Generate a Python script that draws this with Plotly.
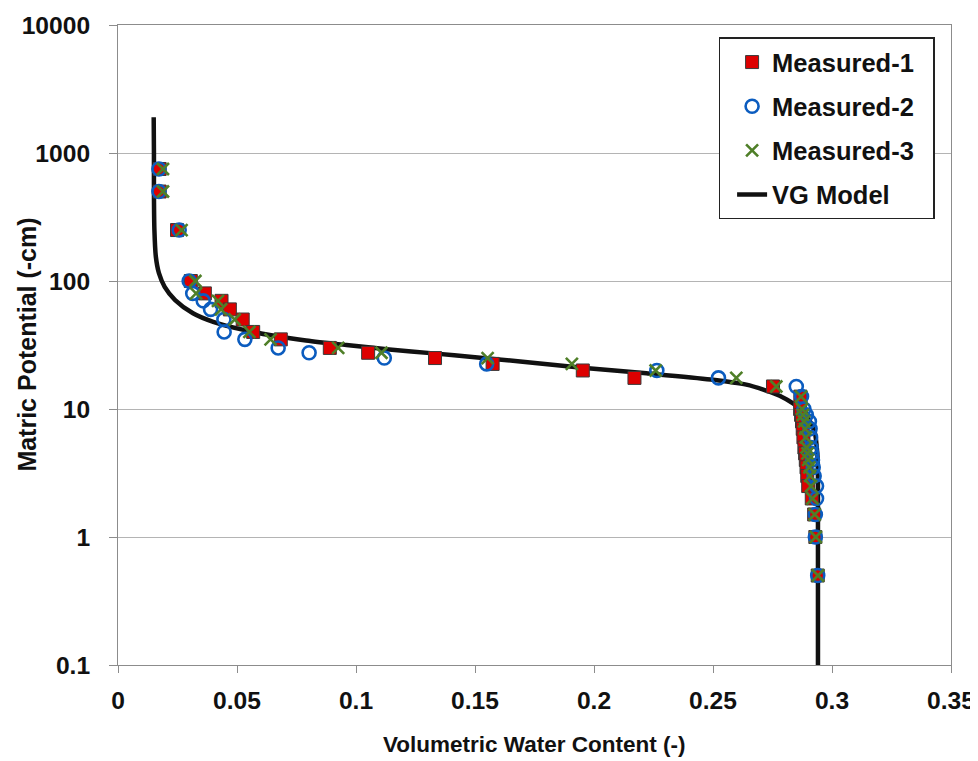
import plotly.graph_objects as go

# ---------------- data ----------------
suction_levels = [750, 500, 250, 100, 80, 70, 60, 50, 40, 35, 30, 27.5, 25, 22.5, 20,
                  17.5, 15, 12.5, 10, 9, 8, 7, 6, 5, 4.5, 4, 3.5, 3, 2.5, 2, 1.5, 1, 0.5]

measured1_theta = [0.0175, 0.0175, 0.0248, 0.0306, 0.0365, 0.0435, 0.0470, 0.0524, 0.0568,
                   0.0684, 0.0890, 0.1051, 0.1332, 0.1574, 0.1953, 0.2170, 0.2752, 0.2867,
                   0.2866, 0.2870, 0.2874, 0.2877, 0.2880, 0.2884, 0.2887, 0.2890, 0.2893,
                   0.2896, 0.2900, 0.2915, 0.2925, 0.2930, 0.2940]

measured2_theta = [0.0172, 0.0172, 0.0257, 0.0299, 0.0314, 0.0358, 0.0389, 0.0445, 0.0446,
                   0.0533, 0.0673, 0.0803, 0.1119, 0.1549, 0.2264, 0.2523, 0.2850, 0.2872,
                   0.2882, 0.2892, 0.2905, 0.2908, 0.2910, 0.2912, 0.2915, 0.2918, 0.2921,
                   0.2925, 0.2935, 0.2935, 0.2930, 0.2930, 0.2940]

measured3_theta = [0.0189, 0.0189, 0.0267, 0.0325, 0.0328, 0.0420, 0.0433, 0.0490, 0.0552,
                   0.0641, 0.0925, 0.1107, 0.1553, 0.1907, 0.2259, 0.2598, 0.2766, 0.2870,
                   0.2874, 0.2878, 0.2883, 0.2887, 0.2890, 0.2893, 0.2897, 0.2900, 0.2905,
                   0.2908, 0.2912, 0.2918, 0.2927, 0.2932, 0.2941]

vg_h = [1900, 1000, 500, 250, 155, 115, 90, 71, 56, 48, 41.5, 37.5, 34.3, 31.6, 29.2, 27.2,
        25.4, 23.5, 21, 19, 17, 15.5, 14, 12.7, 11, 10, 8.5, 6.5, 5, 4, 2, 1, 0.5, 0.1]
vg_theta = [0.0150, 0.0151, 0.0151, 0.0153, 0.0159, 0.0172, 0.0196, 0.0240, 0.0315, 0.0400,
            0.0528, 0.0650, 0.0790, 0.0960, 0.1140, 0.1325, 0.1500, 0.1690, 0.1950, 0.2220,
            0.2490, 0.2640, 0.2720, 0.2780, 0.2838, 0.2865, 0.2900, 0.2928, 0.2936, 0.2940,
            0.2941, 0.2941, 0.2941, 0.2941]

x_tick_vals = [0, 0.05, 0.1, 0.15, 0.2, 0.25, 0.3, 0.35]
x_tick_text = ["0", "0.05", "0.1", "0.15", "0.2", "0.25", "0.3", "0.35"]
y_tick_vals = [0.1, 1, 10, 100, 1000, 10000]
y_tick_text = ["0.1", "1", "10", "100", "1000", "10000"]

series_names = ["Measured-1", "Measured-2\u00a0\u00a0", "Measured-3", "VG Model"]

# ---------------- figure ----------------
FONT = "Liberation Sans, Arial, sans-serif"
fig = go.Figure()

fig.add_trace(go.Scatter(
    x=vg_theta, y=vg_h, mode="lines", name=series_names[3],
    line=dict(color="#111111", width=4.5, shape="spline", smoothing=0.8),
    legendgroup="g4", legendrank=4))

fig.add_trace(go.Scatter(
    x=measured1_theta, y=suction_levels, mode="markers", name=series_names[0],
    marker=dict(symbol="square", size=13, color="#dd0000",
                line=dict(color="#3a3a3a", width=1)),
    legendgroup="g1", legendrank=1))

fig.add_trace(go.Scatter(
    x=measured2_theta, y=suction_levels, mode="markers", name=series_names[1],
    marker=dict(symbol="circle-open", size=13, color="#0b5cbf",
                line=dict(color="#0b5cbf", width=2.6)),
    legendgroup="g2", legendrank=2))

fig.add_trace(go.Scatter(
    x=measured3_theta, y=suction_levels, mode="markers", name=series_names[2],
    marker=dict(symbol="x-thin-open", size=12, color="#4f7f28",
                line=dict(color="#4f7f28", width=2.6)),
    legendgroup="g3", legendrank=3))

# the page body adds an 8 px offset, so the figure is 8 px smaller and margins shifted
fig.update_layout(
    width=970, height=753,
    margin=dict(l=110.3, r=27.3, t=16.5, b=95.8, autoexpand=False),
    paper_bgcolor="white", plot_bgcolor="white",
    font=dict(family=FONT, size=24.6, color="#111111"),
    showlegend=True,
    legend=dict(
        x=0.7210, y=0.9805, xanchor="left", yanchor="top",
        bgcolor="white", bordercolor="#222222", borderwidth=1.5,
        font=dict(family=FONT, size=25.5, color="#111111", weight="bold"),
        tracegroupgap=8, indentation=12, itemwidth=30,
        traceorder="grouped",
    ),
    xaxis=dict(
        range=[0, 0.35], tickvals=x_tick_vals, ticktext=x_tick_text,
        showgrid=False, zeroline=False, automargin=False,
        showline=True, linecolor="#8c8c8c", linewidth=1, mirror=True,
        ticks="outside", ticklen=7, tickcolor="#8c8c8c", tickwidth=1,
        tickfont=dict(family=FONT, size=24.6, color="#111111", weight="bold"),
        ticklabelstandoff=6,
    ),
    yaxis=dict(
        type="log", range=[-1, 4], tickvals=y_tick_vals, ticktext=y_tick_text,
        showgrid=True, gridcolor="#b4b4b4", gridwidth=1, zeroline=False, automargin=False,
        showline=True, linecolor="#8c8c8c", linewidth=1, mirror=True,
        ticks="outside", ticklen=8, tickcolor="#8c8c8c", tickwidth=1,
        tickfont=dict(family=FONT, size=24.6, color="#111111", weight="bold"),
        ticklabelstandoff=14,
    ),
    annotations=[
        dict(text="<b>Volumetric Water Content (-)</b>", xref="paper", yref="paper",
             x=0.5, y=-0.1245, xanchor="center", yanchor="middle", showarrow=False,
             font=dict(family=FONT, size=22.5, color="#111111")),
        dict(text="<b>Matric Potential (-cm)</b>", xref="paper", yref="paper",
             x=-0.1097, y=0.5, xanchor="center", yanchor="middle", showarrow=False,
             textangle=-90, font=dict(family=FONT, size=25, color="#111111")),
    ],
)

fig.write_html("out.html")
